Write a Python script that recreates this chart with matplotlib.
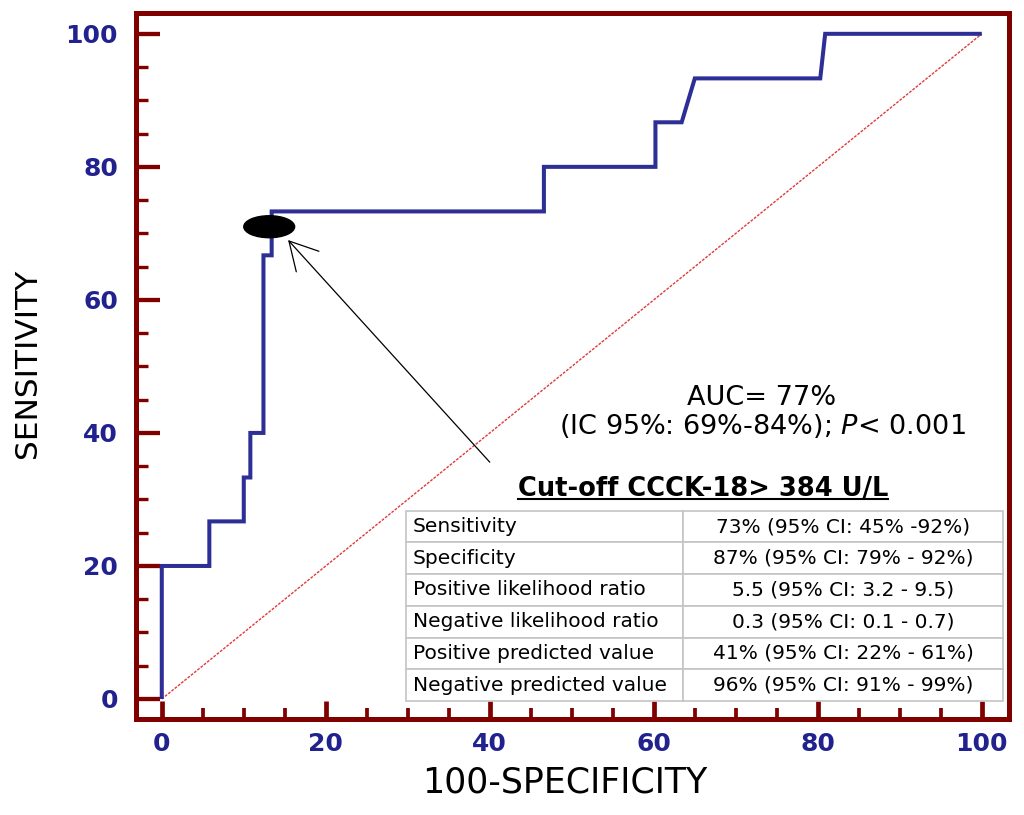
import matplotlib
matplotlib.use("Agg")
import matplotlib.pyplot as plt
from matplotlib.patches import Ellipse

# ROC curve (step points)
roc_x = [0, 0, 5.8, 5.8, 10.0, 10.0, 10.8, 10.8, 12.4, 12.4, 13.4, 13.4,
         46.6, 46.6, 60.2, 60.2, 63.4, 65.0, 80.3, 80.9, 100]
roc_y = [0, 20, 20, 26.7, 26.7, 33.3, 33.3, 40, 40, 66.7, 66.7, 73.3,
         73.3, 80, 80, 86.7, 86.7, 93.3, 93.3, 100, 100]

# reference diagonal
diag_x = [0, 100]
diag_y = [0, 100]

# cut-off point and arrow
cut_point = (13.1, 71.0)
arrow_tip = (15.4, 69.0)
arrow_tail = (40.0, 35.6)

ticks = [0, 20, 40, 60, 80, 100]
minor_ticks = [5, 10, 15, 25, 30, 35, 45, 50, 55, 65, 70, 75, 85, 90, 95]

table_title = "Cut-off CCCK-18> 384 U/L"
row_labels = ["Sensitivity", "Specificity", "Positive likelihood ratio",
              "Negative likelihood ratio", "Positive predicted value",
              "Negative predicted value"]
row_values = ["73% (95% CI: 45% -92%)", "87% (95% CI: 79% - 92%)",
              "5.5 (95% CI: 3.2 - 9.5)", "0.3 (95% CI: 0.1 - 0.7)",
              "41% (95% CI: 22% - 61%)", "96% (95% CI: 91% - 99%)"]

dark_red = "#800000"
navy = "#22228f"
roc_blue = "#2d2f96"

fig = plt.figure(figsize=(10.24, 8.15), dpi=100)
ax = fig.add_axes([0.1326, 0.1172, 0.8523, 0.8666])

# diagonal and ROC line
ax.plot(diag_x, diag_y, color="#e03a3a", lw=1.0, linestyle=(0, (2, 1)), zorder=2)
ax.plot(roc_x, roc_y, color=roc_blue, lw=2.9, solid_joinstyle="miter",
        solid_capstyle="butt", zorder=3)

# cut-off marker
ax.add_patch(Ellipse(cut_point, 6.2, 3.3, color="black", zorder=4))
ax.annotate("", xy=arrow_tip, xytext=arrow_tail,
            arrowprops=dict(arrowstyle="->,head_length=2.0,head_width=1.1",
                            color="black", lw=0.9, shrinkA=0, shrinkB=0),
            zorder=4)

ax.set_xlim(-3.17, 103.26)
ax.set_ylim(-3.08, 103.1)

for s in ax.spines.values():
    s.set_color(dark_red)
    s.set_linewidth(3.6)

ax.set_xticks(ticks)
ax.set_yticks(ticks)
ax.set_xticks(minor_ticks, minor=True)
ax.set_yticks(minor_ticks, minor=True)
ax.tick_params(axis="both", which="both", direction="in", color=dark_red,
               top=False, right=False)
ax.tick_params(axis="y", which="major", length=17, width=3.1, pad=12.8)
ax.tick_params(axis="y", which="minor", length=8.6, width=2.4)
ax.tick_params(axis="x", which="major", length=12.7, width=3.4, pad=9)
ax.tick_params(axis="x", which="minor", length=7.9, width=2.7)
for lab in ax.get_xticklabels() + ax.get_yticklabels():
    lab.set_color(navy)
    lab.set_fontsize(18)
    lab.set_fontweight("bold")

ax.set_xlabel("100-SPECIFICITY", fontsize=25, va="center", ha="center")
ax.xaxis.set_label_coords(0.4918, -0.0899)
ax.set_ylabel("SENSITIVITY", fontsize=22.5, va="center", ha="center")
ax.yaxis.set_label_coords(-0.1241, 0.5047)

# AUC annotation
ax.text(0.7175, 0.4453, "AUC= 77%", transform=ax.transAxes, fontsize=19.5,
        ha="center", va="baseline")
ax.text(0.7175, 0.4042, "(IC 95%: 69%-84%); $\\it{P}$< 0.001",
        transform=ax.transAxes, fontsize=19.5, ha="center", va="baseline")

# table title (underlined)
title_txt = ax.text(0.650, 0.3164, table_title, transform=ax.transAxes,
                    fontsize=18.5, fontweight="bold", ha="center", va="baseline")

# results table
cell_text = [[lab, val] for lab, val in zip(row_labels, row_values)]
tbl = ax.table(cellText=cell_text, colWidths=[0.464, 0.536],
               bbox=[0.3096, 0.0262, 0.6841, 0.2694], zorder=5)
tbl.auto_set_font_size(False)
for (r, c), cell in tbl.get_celld().items():
    cell.set_edgecolor("#c4c4c4")
    cell.set_linewidth(1.2)
    cell.set_facecolor("white")
    cell.get_text().set_fontsize(14.5)
    if c == 0:
        cell.PAD = 0.024
        cell.get_text().set_ha("left")
        cell._loc = "left"
    else:
        cell._loc = "center"
        cell.get_text().set_ha("center")

fig.canvas.draw()
bb = title_txt.get_window_extent().transformed(ax.transAxes.inverted())
ax.plot([bb.x0, bb.x1], [0.3122, 0.3122], transform=ax.transAxes,
        color="black", lw=1.5, clip_on=False, zorder=5)

fig.savefig("out.png", dpi=100)
